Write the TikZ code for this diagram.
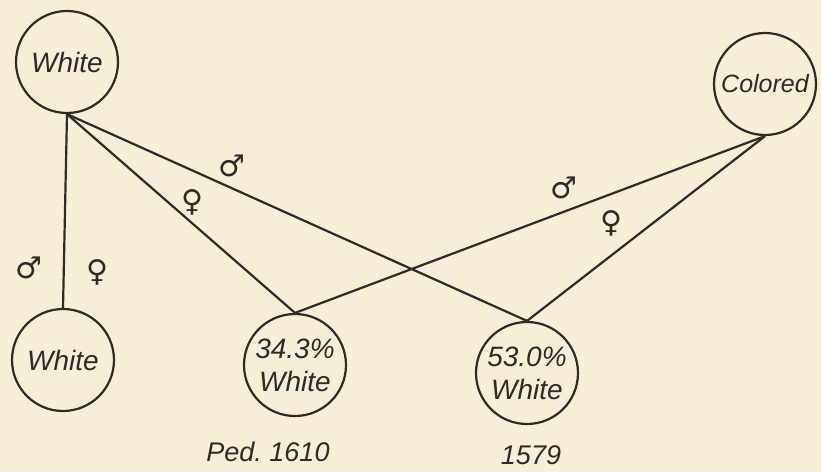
\documentclass[tikz,border=0pt]{standalone}
\usepackage{fontspec}
\setmainfont{Liberation Sans}
\newfontfamily\sexfont{DejaVu Sans}
\usepackage{xcolor}
\definecolor{papelPed}{HTML}{F7EED8}
\definecolor{tintaPed}{HTML}{2E2A26}
\usepackage{tikz}

\begin{document}
\begin{tikzpicture}[x=1pt,y=-1pt,line width=2.2pt,
    persona/.style={circle,draw=tintaPed,line width=2.2pt,minimum size=102pt,
        inner sep=0pt,align=center,text=tintaPed,
        font=\fontsize{28}{33}\selectfont\itshape},
    sexo/.style={text=tintaPed,font=\sexfont\fontsize{30}{30}\selectfont}]

% Fondo
\fill[papelPed] (0,0) rectangle (821,472);

% Padres
\node[persona] (blancoP) at (67,62) {White};
\node[persona,font=\fontsize{25}{33}\selectfont\itshape] (color) at (765,84) {Colored};

% Hijos
\node[persona] (blancoH) at (63,360) {White};
\node[persona] (mezclaA) at (295,365) {34.3\%\\White};
\node[persona] (mezclaB) at (527,373) {53.0\%\\White};

% Cruces
\draw[tintaPed] (blancoP.south) -- (blancoH.north);
\draw[tintaPed] (blancoP.south) -- (mezclaA.north);
\draw[tintaPed] (blancoP.south) -- (mezclaB.north);
\draw[tintaPed] (color.south) -- (mezclaA.north);
\draw[tintaPed] (color.south) -- (mezclaB.north);

% Sexos
\node[sexo] (macho1) at (29,268) {♂};
\node[sexo] (hembra1) at (97,272) {♀};
\node[sexo] (hembra2) at (192,202) {♀};
\node[sexo] (macho2) at (232,166) {♂};
\node[sexo] (macho3) at (564,188) {♂};
\node[sexo] (hembra3) at (611,223) {♀};

% Etiquetas
\node[text=tintaPed,font=\fontsize{27}{27}\selectfont\itshape] (ped1) at (268,452)
    {Ped.\ 1610};
\node[text=tintaPed,font=\fontsize{27}{27}\selectfont\itshape] (ped2) at (531,455)
    {1579};

\end{tikzpicture}
\end{document}
